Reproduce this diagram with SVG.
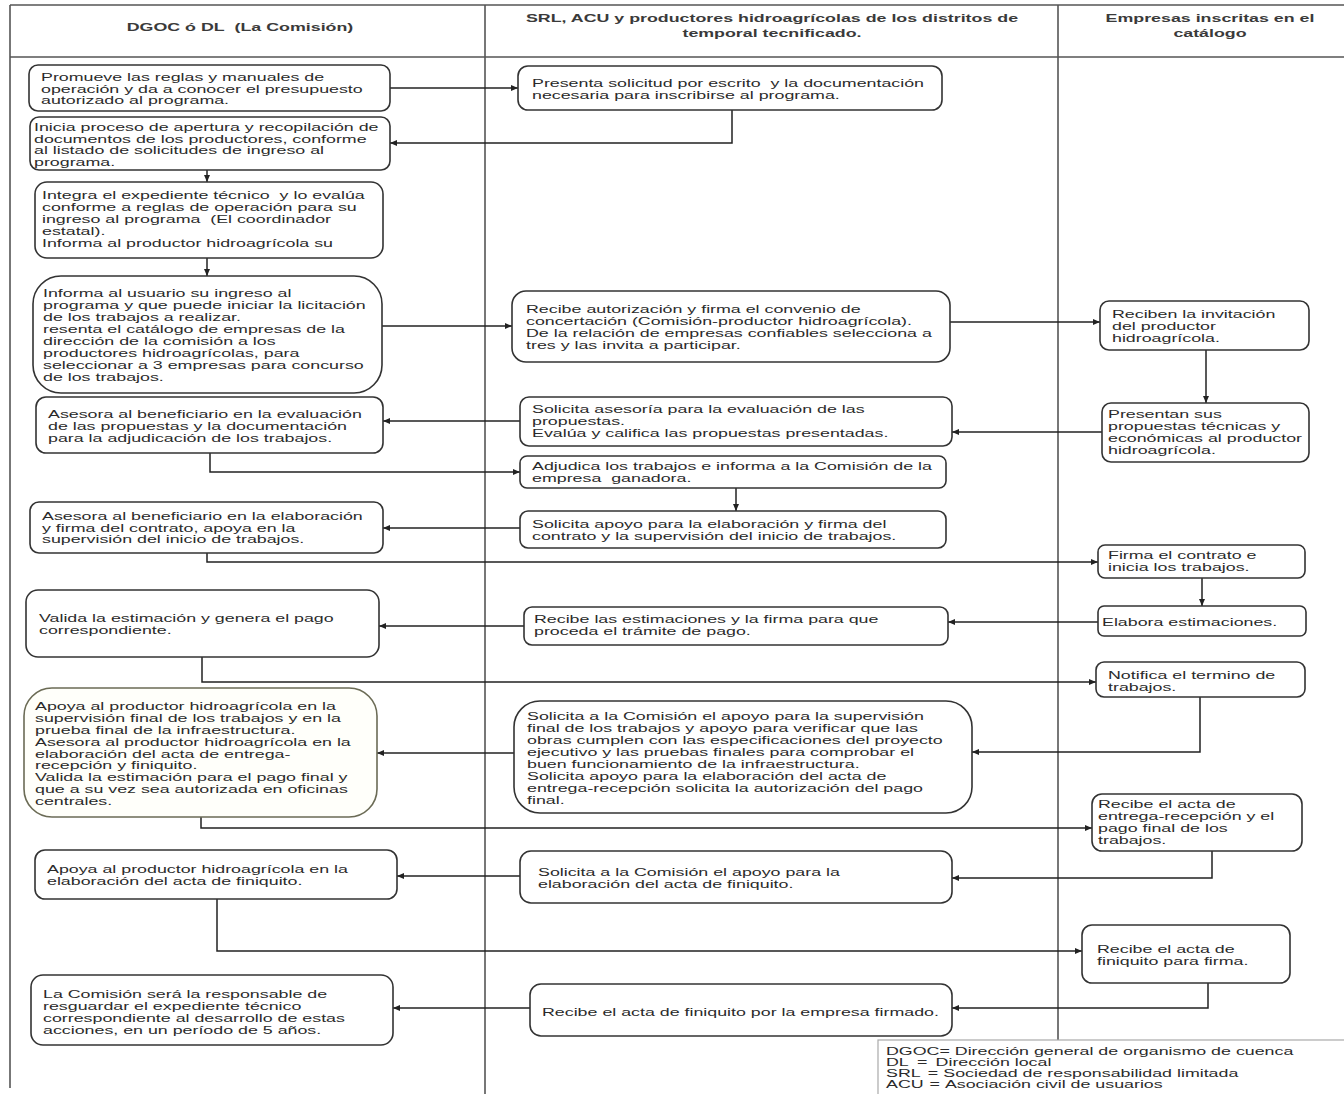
<svg xmlns="http://www.w3.org/2000/svg" width="1344" height="1094" viewBox="0 0 1344 1094">
<style>
.t{font-family:"Liberation Sans",Arial,sans-serif;font-size:11.5px;fill:#2b2b2b}
.h{font-family:"Liberation Sans",Arial,sans-serif;font-size:11.5px;font-weight:bold;fill:#3a3a3a}
.box{fill:#fff;stroke:#333;stroke-width:1.6}
.lane{stroke:#555;stroke-width:1.6;fill:none}
.c{fill:none;stroke:#222;stroke-width:1.5}
</style>
<defs>
<marker id="arr" markerUnits="userSpaceOnUse" markerWidth="8" markerHeight="8" refX="7" refY="4" orient="auto"><path d="M0,1 L7,4 L0,7 z" fill="#222"/></marker>
</defs>
<rect width="1344" height="1094" fill="#fff"/>
<g id="lanes">
<line class="lane" x1="10" y1="5" x2="1344" y2="5"/>
<line class="lane" x1="10" y1="57" x2="1344" y2="57"/>
<line class="lane" x1="10" y1="5" x2="10" y2="1088"/>
<line class="lane" x1="485" y1="5" x2="485" y2="1094"/>
<line class="lane" x1="1058" y1="5" x2="1058" y2="1040"/>
<text class="h" transform="translate(240,31) scale(1.55,1)" text-anchor="middle">DGOC ó DL&#160; (La Comisión)</text>
<text class="h" transform="translate(772,22) scale(1.55,1)" text-anchor="middle"><tspan x="0" y="0">SRL, ACU y productores hidroagrícolas de los distritos de</tspan><tspan x="0" y="15">temporal tecnificado.</tspan></text>
<text class="h" transform="translate(1210,22) scale(1.55,1)" text-anchor="middle"><tspan x="0" y="0">Empresas inscritas en el</tspan><tspan x="0" y="15">catálogo</tspan></text>
</g>
<g id="connectors">
<path class="c" d="M390,88 H518" marker-end="url(#arr)"/>
<path class="c" d="M732,110 V143 H390" marker-end="url(#arr)"/>
<path class="c" d="M207,170 V182" marker-end="url(#arr)"/>
<path class="c" d="M207,258 V276" marker-end="url(#arr)"/>
<path class="c" d="M382,326 H512" marker-end="url(#arr)"/>
<path class="c" d="M950,322 H1100" marker-end="url(#arr)"/>
<path class="c" d="M1206,350 V403" marker-end="url(#arr)"/>
<path class="c" d="M1102,432 H952" marker-end="url(#arr)"/>
<path class="c" d="M520,421 H383" marker-end="url(#arr)"/>
<path class="c" d="M210,453 V472 H520" marker-end="url(#arr)"/>
<path class="c" d="M736,488 V511" marker-end="url(#arr)"/>
<path class="c" d="M520,528 H383" marker-end="url(#arr)"/>
<path class="c" d="M207,553 V562 H1098" marker-end="url(#arr)"/>
<path class="c" d="M1202,578 V606" marker-end="url(#arr)"/>
<path class="c" d="M1098,622 H948" marker-end="url(#arr)"/>
<path class="c" d="M524,626 H379" marker-end="url(#arr)"/>
<path class="c" d="M202,657 V682 H1096" marker-end="url(#arr)"/>
<path class="c" d="M1200,697 V752 H972" marker-end="url(#arr)"/>
<path class="c" d="M514,753 H377" marker-end="url(#arr)"/>
<path class="c" d="M201,817 V828 H1092" marker-end="url(#arr)"/>
<path class="c" d="M1212,851 V878 H952" marker-end="url(#arr)"/>
<path class="c" d="M520,876 H397" marker-end="url(#arr)"/>
<path class="c" d="M217,899 V951 H1082" marker-end="url(#arr)"/>
<path class="c" d="M1208,983 V1008 H952" marker-end="url(#arr)"/>
<path class="c" d="M530,1008 H393" marker-end="url(#arr)"/>
</g>
<g id="L1"><rect class="box" x="29" y="65" width="361" height="46" rx="9"/><text class="t" transform="translate(41,81) scale(1.55,1)"><tspan x="0" y="0">Promueve las reglas y manuales de</tspan><tspan x="0" y="11.7">operación y da a conocer el presupuesto</tspan><tspan x="0" y="23.4">autorizado al programa.</tspan></text></g>
<g id="L2"><rect class="box" x="30" y="117" width="360" height="53" rx="9"/><text class="t" transform="translate(34,131) scale(1.55,1)"><tspan x="0" y="0">Inicia proceso de apertura y recopilación de</tspan><tspan x="0" y="11.7">documentos de los productores, conforme</tspan><tspan x="0" y="23.4">al listado de solicitudes de ingreso al</tspan><tspan x="0" y="35.1">programa.</tspan></text></g>
<g id="L3"><rect class="box" x="35" y="182" width="348" height="76" rx="12"/><text class="t" transform="translate(42,199) scale(1.55,1)"><tspan x="0" y="0">Integra el expediente técnico&#160; y lo evalúa</tspan><tspan x="0" y="12">conforme a reglas de operación para su</tspan><tspan x="0" y="24">ingreso al programa&#160; (El coordinador</tspan><tspan x="0" y="36">estatal).</tspan><tspan x="0" y="48">Informa al productor hidroagrícola su</tspan></text></g>
<g id="L4"><rect class="box" x="33" y="276" width="349" height="117" rx="28"/><text class="t" transform="translate(43,297) scale(1.55,1)"><tspan x="0" y="0">Informa al usuario su ingreso al</tspan><tspan x="0" y="12">programa y que puede iniciar la licitación</tspan><tspan x="0" y="24">de los trabajos a realizar.</tspan><tspan x="0" y="36">resenta el catálogo de empresas de la</tspan><tspan x="0" y="48">dirección de la comisión a los</tspan><tspan x="0" y="60">productores hidroagrícolas, para</tspan><tspan x="0" y="72">seleccionar a 3 empresas para concurso</tspan><tspan x="0" y="84">de los trabajos.</tspan></text></g>
<g id="L5"><rect class="box" x="36" y="397" width="347" height="56" rx="10"/><text class="t" transform="translate(48,418) scale(1.55,1)"><tspan x="0" y="0">Asesora al beneficiario en la evaluación</tspan><tspan x="0" y="12">de las propuestas y la documentación</tspan><tspan x="0" y="24">para la adjudicación de los trabajos.</tspan></text></g>
<g id="L6"><rect class="box" x="30" y="502" width="353" height="51" rx="9"/><text class="t" transform="translate(42,520) scale(1.55,1)"><tspan x="0" y="0">Asesora al beneficiario en la elaboración</tspan><tspan x="0" y="11.7">y firma del contrato, apoya en la</tspan><tspan x="0" y="23.4">supervisión del inicio de trabajos.</tspan></text></g>
<g id="L7"><rect class="box" x="26" y="590" width="353" height="67" rx="12"/><text class="t" transform="translate(39,622) scale(1.55,1)"><tspan x="0" y="0">Valida la estimación y genera el pago</tspan><tspan x="0" y="12.5">correspondiente.</tspan></text></g>
<g id="L8"><rect x="24" y="688" width="353" height="129" rx="28" fill="#fffffa" stroke="#6b6b55" stroke-width="1.6"/><text class="t" transform="translate(35,710) scale(1.55,1)"><tspan x="0" y="0">Apoya al productor hidroagrícola en la</tspan><tspan x="0" y="11.9">supervisión final de los trabajos y en la</tspan><tspan x="0" y="23.8">prueba final de la infraestructura.</tspan><tspan x="0" y="35.7">Asesora al productor hidroagrícola en la</tspan><tspan x="0" y="47.6">elaboración del acta de entrega-</tspan><tspan x="0" y="59.5">recepción y finiquito.</tspan><tspan x="0" y="71.4">Valida la estimación para el pago final y</tspan><tspan x="0" y="83.3">que a su vez sea autorizada en oficinas</tspan><tspan x="0" y="95.2">centrales.</tspan></text></g>
<g id="L9"><rect class="box" x="35" y="850" width="362" height="49" rx="10"/><text class="t" transform="translate(47,873) scale(1.55,1)"><tspan x="0" y="0">Apoya al productor hidroagrícola en la</tspan><tspan x="0" y="12.5">elaboración del acta de finiquito.</tspan></text></g>
<g id="L10"><rect class="box" x="31" y="975" width="362" height="70" rx="12"/><text class="t" transform="translate(43,998) scale(1.55,1)"><tspan x="0" y="0">La Comisión será la responsable de</tspan><tspan x="0" y="12">resguardar el expediente técnico</tspan><tspan x="0" y="24">correspondiente al desarrollo de estas</tspan><tspan x="0" y="36">acciones, en un período de 5 años.</tspan></text></g>
<g id="M1"><rect class="box" x="518" y="66" width="424" height="44" rx="10"/><text class="t" transform="translate(532,87) scale(1.55,1)"><tspan x="0" y="0">Presenta solicitud por escrito&#160; y la documentación</tspan><tspan x="0" y="12">necesaria para inscribirse al programa.</tspan></text></g>
<g id="M2"><rect class="box" x="512" y="291" width="438" height="71" rx="14"/><text class="t" transform="translate(526,313) scale(1.55,1)"><tspan x="0" y="0">Recibe autorización y firma el convenio de</tspan><tspan x="0" y="12">concertación (Comisión-productor hidroagrícola).</tspan><tspan x="0" y="24">De la relación de empresas confiables selecciona a</tspan><tspan x="0" y="36">tres y las invita a participar.</tspan></text></g>
<g id="M3"><rect class="box" x="520" y="397" width="432" height="49" rx="9"/><text class="t" transform="translate(532,413) scale(1.55,1)"><tspan x="0" y="0">Solicita asesoría para la evaluación de las</tspan><tspan x="0" y="12">propuestas.</tspan><tspan x="0" y="24">Evalúa y califica las propuestas presentadas.</tspan></text></g>
<g id="M4"><rect class="box" x="520" y="456" width="426" height="32" rx="7"/><text class="t" transform="translate(532,470) scale(1.55,1)"><tspan x="0" y="0">Adjudica los trabajos e informa a la Comisión de la</tspan><tspan x="0" y="12.5">empresa&#160; ganadora.</tspan></text></g>
<g id="M5"><rect class="box" x="520" y="511" width="426" height="37" rx="8"/><text class="t" transform="translate(532,528) scale(1.55,1)"><tspan x="0" y="0">Solicita apoyo para la elaboración y firma del</tspan><tspan x="0" y="12">contrato y la supervisión del inicio de trabajos.</tspan></text></g>
<g id="M6"><rect class="box" x="524" y="607" width="424" height="38" rx="8"/><text class="t" transform="translate(534,623) scale(1.55,1)"><tspan x="0" y="0">Recibe las estimaciones y la firma para que</tspan><tspan x="0" y="12.5">proceda el trámite de pago.</tspan></text></g>
<g id="M7"><rect class="box" x="514" y="701" width="458" height="112" rx="26"/><text class="t" transform="translate(527,720) scale(1.55,1)"><tspan x="0" y="0">Solicita a la Comisión el apoyo para la supervisión</tspan><tspan x="0" y="12">final de los trabajos y apoyo para verificar que las</tspan><tspan x="0" y="24">obras cumplen con las especificaciones del proyecto</tspan><tspan x="0" y="36">ejecutivo y las pruebas finales para comprobar el</tspan><tspan x="0" y="48">buen funcionamiento de la infraestructura.</tspan><tspan x="0" y="60">Solicita apoyo para la elaboración del acta de</tspan><tspan x="0" y="72">entrega-recepción solicita la autorización del pago</tspan><tspan x="0" y="84">final.</tspan></text></g>
<g id="M8"><rect class="box" x="520" y="851" width="432" height="52" rx="11"/><text class="t" transform="translate(538,876) scale(1.55,1)"><tspan x="0" y="0">Solicita a la Comisión el apoyo para la</tspan><tspan x="0" y="12.5">elaboración del acta de finiquito.</tspan></text></g>
<g id="M9"><rect class="box" x="530" y="984" width="422" height="52" rx="11"/><text class="t" transform="translate(542,1016) scale(1.55,1)">Recibe el acta de finiquito por la empresa firmado.</text></g>
<g id="R1"><rect class="box" x="1100" y="301" width="209" height="49" rx="9"/><text class="t" transform="translate(1112,318) scale(1.55,1)"><tspan x="0" y="0">Reciben la invitación</tspan><tspan x="0" y="12">del productor</tspan><tspan x="0" y="24">hidroagrícola.</tspan></text></g>
<g id="R2"><rect class="box" x="1102" y="403" width="207" height="59" rx="9"/><text class="t" transform="translate(1108,418) scale(1.55,1)"><tspan x="0" y="0">Presentan sus</tspan><tspan x="0" y="12">propuestas técnicas y</tspan><tspan x="0" y="24">económicas al productor</tspan><tspan x="0" y="36">hidroagrícola.</tspan></text></g>
<g id="R3"><rect class="box" x="1098" y="545" width="207" height="33" rx="7"/><text class="t" transform="translate(1108,559) scale(1.55,1)"><tspan x="0" y="0">Firma el contrato e</tspan><tspan x="0" y="12">inicia los trabajos.</tspan></text></g>
<g id="R4"><rect class="box" x="1098" y="606" width="208" height="30" rx="6"/><text class="t" transform="translate(1102,626) scale(1.55,1)">Elabora estimaciones.</text></g>
<g id="R5"><rect class="box" x="1096" y="662" width="209" height="35" rx="8"/><text class="t" transform="translate(1108,679) scale(1.55,1)"><tspan x="0" y="0">Notifica el termino de</tspan><tspan x="0" y="12">trabajos.</tspan></text></g>
<g id="R6"><rect class="box" x="1092" y="794" width="210" height="57" rx="10"/><text class="t" transform="translate(1098,808) scale(1.55,1)"><tspan x="0" y="0">Recibe el acta de</tspan><tspan x="0" y="12">entrega-recepción y el</tspan><tspan x="0" y="24">pago final de los</tspan><tspan x="0" y="36">trabajos.</tspan></text></g>
<g id="R7"><rect class="box" x="1082" y="925" width="208" height="58" rx="10"/><text class="t" transform="translate(1097,953) scale(1.55,1)"><tspan x="0" y="0">Recibe el acta de</tspan><tspan x="0" y="12">finiquito para firma.</tspan></text></g>
<g id="legend"><rect x="878" y="1040" width="470" height="60" fill="#fff" stroke="#aaa" stroke-width="1.2"/><text class="t" transform="translate(886,1055) scale(1.55,1)"><tspan x="0" y="0">DGOC= Dirección general de organismo de cuenca</tspan><tspan x="0" y="11">DL</tspan><tspan x="20" y="11">=</tspan><tspan x="32" y="11">Dirección local</tspan><tspan x="0" y="22">SRL</tspan><tspan x="27" y="22">=</tspan><tspan x="37" y="22">Sociedad de responsabilidad limitada</tspan><tspan x="0" y="33">ACU</tspan><tspan x="28" y="33">=</tspan><tspan x="38" y="33">Asociación civil de usuarios</tspan></text></g>
</svg>
